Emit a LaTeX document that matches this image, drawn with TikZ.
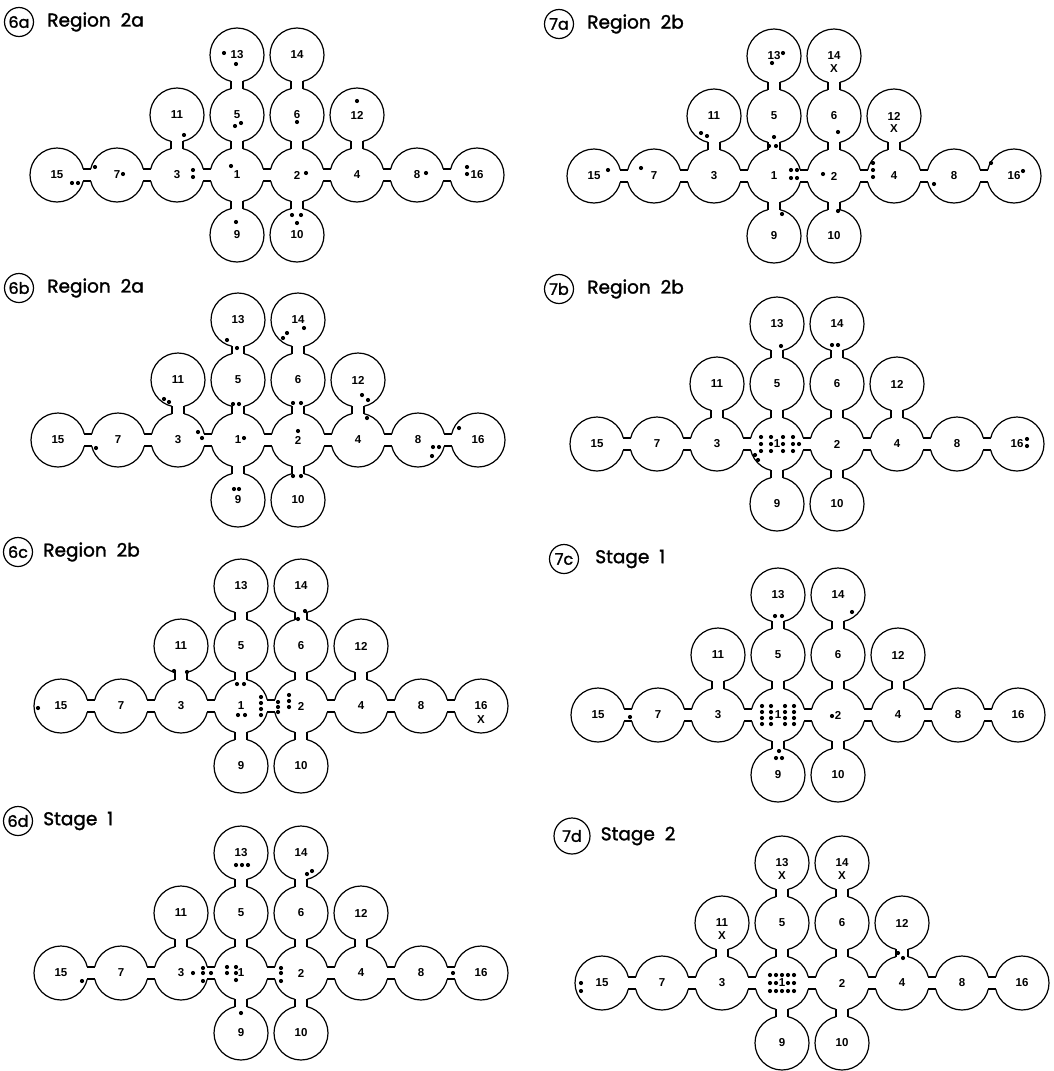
\documentclass[tikz,border=0pt]{standalone}
\usepackage{fontspec}
\setmainfont{Liberation Sans}
\newfontfamily\lettering[BoldFont={Poppins}, BoldFeatures={FakeBold=1.6}]{Poppins}
\usetikzlibrary{positioning, calc}

\tikzset{
  cell/.style={draw, circle, minimum size=54pt, inner sep=0pt, line width=1.2pt,
               font=\fontsize{11.5}{13}\selectfont\bfseries},
  wall/.style={line width=1.2pt},
  xmark/.style={inner sep=0pt, font=\fontsize{11.5}{13}\selectfont\bfseries},
  tag/.style={draw, circle, minimum size=29pt, inner sep=0pt, line width=1.2pt,
              font=\lettering\bfseries\fontsize{16}{17}\selectfont},
  ttl/.style={inner sep=0pt, font=\lettering\bfseries\fontsize{18.5}{20}\selectfont}
}

% the sixteen cells and their necks, cell 1 sits at (0,0)
\newcommand{\drawmaze}{%
  \foreach \n/\i/\j in {15/-3/0, 7/-2/0, 3/-1/0, 1/0/0, 2/1/0, 4/2/0, 8/3/0, 16/4/0,
                        11/-1/-1, 5/0/-1, 6/1/-1, 12/2/-1, 13/0/-2, 14/1/-2,
                        9/0/1, 10/1/1}
    {\node[cell] (c\n) at (60*\i,60*\j) {\n};}
  \foreach \a/\b in {15/7, 7/3, 3/1, 1/2, 2/4, 4/8, 8/16}
    {\fill[white] ($(c\a.center)+(24,-6)$) rectangle ($(c\b.center)+(-24,6)$);
     \draw[wall] ($(c\a.center)+(26.3,-6)$) -- ($(c\b.center)+(-26.3,-6)$)
                 ($(c\a.center)+(26.3,6)$) -- ($(c\b.center)+(-26.3,6)$);}
  \foreach \a/\b in {13/5, 5/1, 1/9, 14/6, 6/2, 2/10, 11/3, 12/4}
    {\fill[white] ($(c\a.center)+(-6,24)$) rectangle ($(c\b.center)+(6,-24)$);
     \draw[wall] ($(c\a.center)+(-6,26.3)$) -- ($(c\b.center)+(-6,-26.3)$)
                 ($(c\a.center)+(6,26.3)$) -- ($(c\b.center)+(6,-26.3)$);}
}
% the dots, as offsets from cell 1
\newcommand{\pebbles}[1]{\foreach \u/\v in {#1} {\fill (\u,\v) circle (2.1pt);}}

\begin{document}
\begin{tikzpicture}[x=1pt, y=-1pt]
\useasboundingbox (0,0) rectangle (1053,1071);

% ---------- 6a ----------
\node[tag] (tag6a) at (19,22) {6a};
\node[ttl, right=13pt of tag6a] (ttl6a) {Region~~2a};
\begin{scope}[shift={(237,175)}, name prefix=p6a-]
  \drawmaze
  \pebbles{-13/-122, -1/-111, -53/-40, -2/-49, 4/-52, -6/-9, 69/-2, 120/-74,
           60/-53, -142/-8, -165/8, -159/8, -114/-1, -44/-5, -44/2, 189/-2,
           230/-8, 230/-1, 55/40, 64/40, 60/48, -1/47}
\end{scope}

% ---------- 7a ----------
\node[tag] (tag7a) at (559,24) {7a};
\node[ttl, right=13pt of tag7a] (ttl7a) {Region~~2b};
\begin{scope}[shift={(774,176)}, name prefix=p7a-]
  \drawmaze
  \node[xmark] (x14) at ($(c14)+(0,13)$) {X};
  \node[xmark] (x12) at ($(c12)+(0,13)$) {X};
  \pebbles{9/-123, -2/-113, -166/-6, -133/-8, -73/-43, -67/-40, 0/-39, -5/-30,
           2/-30, 64/-44, 17/-6, 23/-6, 17/2, 23/2, 49/-2, 99/-13, 99/-6, 99/1,
           160/8, 217/-13, 249/-5, 8/38, 64/35}
\end{scope}

% ---------- 6b ----------
\node[tag] (tag6b) at (19,288) {6b};
\node[ttl, right=13pt of tag6b] (ttl6b) {Region~~2a};
\begin{scope}[shift={(238,440)}, name prefix=p6b-]
  \drawmaze
  \pebbles{-11/-100, -1/-92, 45/-102, 49/-107, 66/-112, -74/-41, -69/-38,
           -5/-36, 1/-36, 55/-37, 63/-37, 124/-45, 130/-40, 129/-22, -40/-8,
           -36/-2, 6/-2, 60/-9, -142/8, 221/-12, 195/7, 201/7, 194/16,
           -4/49, 1/49, 55/36, 63/36}
\end{scope}

% ---------- 7b ----------
\node[tag] (tag7b) at (559,289) {7b};
\node[ttl, right=13pt of tag7b] (ttl7b) {Region~~2b};
\begin{scope}[shift={(777,444)}, name prefix=p7b-]
  \drawmaze
  \pebbles{4/-98, 55/-99, 61/-99, 250/-5, 250/2, 22/0, -22/11, -19/16}
  \foreach \w in {-16,-6,6,16}
    {\pebbles{\w/-7, \w/0, \w/7}}
\end{scope}

% ---------- 6c ----------
\node[tag] (tag6c) at (18,552) {6c};
\node[ttl, right=10pt of tag6c] (ttl6c) {Region~~2b};
\begin{scope}[shift={(241,706)}, name prefix=p6c-]
  \drawmaze
  \node[xmark] (x16) at ($(c16)+(0,14)$) {X};
  \pebbles{-203/2, -67/-35, -54/-34, -4/-22, 3/-22, -3/9, 4/9, 20/-9, 20/-3,
           20/3, 20/9, 37/-4, 37/1, 37/6, 48/-11, 48/-5, 48/1, 64/-95, 57/-87}
\end{scope}

% ---------- 7c ----------
\node[tag] (tag7c) at (564,559) {7c};
\node[ttl, right=16pt of tag7c] (ttl7c) {Stage~~1};
\begin{scope}[shift={(778,715)}, name prefix=p7c-]
  \drawmaze
  \pebbles{-3/-99, 4/-99, 74/-103, -148/2, 54/1, 1/36, -2/43, 4/43}
  \foreach \w in {-16,-7,7,16}
    {\pebbles{\w/-9, \w/-3, \w/3, \w/9}}
\end{scope}

% ---------- 6d ----------
\node[tag] (tag6d) at (18,821) {6d};
\node[ttl, right=10pt of tag6d] (ttl6d) {Stage~~1};
\begin{scope}[shift={(241,973)}, name prefix=p6d-]
  \drawmaze
  \pebbles{-5/-108, 1/-108, 7/-108, 66/-99, 71/-102, -159/8, -48/0, -38/-5,
           -38/0, -38/8, -30/0, -14/-6, -14/0, -5/-6, -5/0, -5/7, 40/-5, 40/0,
           40/8, 0/40, 212/0}
\end{scope}

% ---------- 7d ----------
\node[tag, minimum size=36pt] (tag7d) at (572,836) {7d};
\node[ttl, right=10pt of tag7d] (ttl7d) {Stage~~2};
\begin{scope}[shift={(782,983)}, name prefix=p7d-]
  \drawmaze
  \node[xmark] (x13) at ($(c13)+(0,13)$) {X};
  \node[xmark] (x14) at ($(c14)+(0,13)$) {X};
  \node[xmark] (x11) at ($(c11)+(0,13)$) {X};
  \pebbles{-201/0, -201/8, 116/-30, 121/-25, -6/0, -12/0, 6/0, 12/0}
  \foreach \w in {-12,-6,0,6,12}
    {\pebbles{\w/-8, \w/8}}
\end{scope}

\end{tikzpicture}
\end{document}
